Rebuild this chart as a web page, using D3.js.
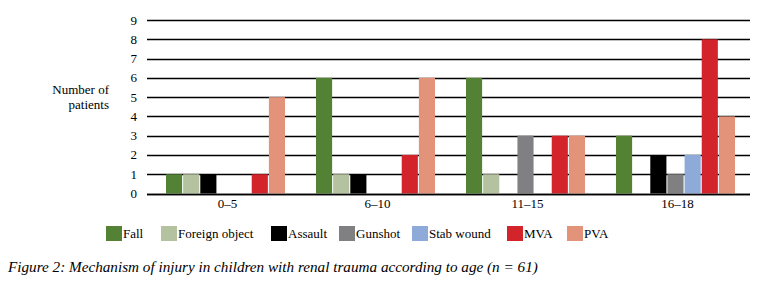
<!DOCTYPE html>
<html><head><meta charset="utf-8">
<script src="https://cdn.jsdelivr.net/npm/d3@7"></script>
<style>
body{margin:0;background:#fff;}
text{font-family:"Liberation Serif","Times New Roman",Times,serif;}
</style></head>
<body>
<svg id="chart" width="760" height="282"></svg>
<script>
const categories = ["0–5", "6–10", "11–15", "16–18"];
const seriesNames = ["Fall", "Foreign object", "Assault", "Gunshot", "Stab wound", "MVA", "PVA"];
const fall = [1, 6, 6, 3];
const foreignObject = [1, 1, 1, 0];
const assault = [1, 1, 0, 2];
const gunshot = [0, 0, 3, 1];
const stabWound = [0, 0, 0, 2];
const mva = [1, 2, 3, 8];
const pva = [5, 6, 3, 4];
const yTicks = [0, 1, 2, 3, 4, 5, 6, 7, 8, 9];
const seriesColors = ["#548235", "#b4c29f", "#000000", "#808083", "#8eaad8", "#d3232b", "#e4937b"];
const legendX = [106, 161, 271, 339, 412, 507, 567];
const caption = "Figure 2: Mechanism of injury in children with renal trauma according to age (n = 61)";

const values = [fall, foreignObject, assault, gunshot, stabWound, mva, pva];
const svg = d3.select("#chart");

const y = d3.scaleLinear().domain([0, 9]).range([193.5, 20]);
const x0 = d3.scaleBand().domain(categories).range([150.5, 750.5]);
const x1 = d3.scaleBand().domain(seriesNames).range([15.5, 134.5]).paddingInner(0.06).paddingOuter(0);

svg.append("g").selectAll("line").data(yTicks).join("line")
  .attr("x1", 147).attr("x2", 750)
  .attr("y1", d => Math.round(y(d)) + 0.5).attr("y2", d => Math.round(y(d)) + 0.5)
  .attr("stroke", "#000").attr("stroke-width", 1.3);

svg.append("g").selectAll("text").data(yTicks).join("text")
  .attr("x", 137).attr("y", d => y(d) + 4.5)
  .attr("text-anchor", "end").attr("font-size", 13)
  .text(d => d);

const rows = [];
categories.forEach((c, i) => seriesNames.forEach((s, j) => rows.push({c, s, v: values[j][i], color: seriesColors[j]})));
svg.append("g").selectAll("rect").data(rows.filter(d => d.v > 0)).join("rect")
  .attr("x", d => x0(d.c) + x1(d.s))
  .attr("width", x1.bandwidth())
  .attr("y", d => y(d.v))
  .attr("height", d => y(0) - y(d.v))
  .attr("fill", d => d.color);

svg.append("line").attr("x1", 147).attr("x2", 750).attr("y1", Math.round(y(0)) + 0.5).attr("y2", Math.round(y(0)) + 0.5)
  .attr("stroke", "#000").attr("stroke-width", 1.3);

svg.append("g").selectAll("text").data(categories).join("text")
  .attr("x", d => x0(d) + x0.bandwidth() / 2 + 2).attr("y", 208)
  .attr("text-anchor", "middle").attr("font-size", 13)
  .text(d => d);

const yt = svg.append("text").attr("text-anchor", "end").attr("font-size", 13);
yt.append("tspan").attr("x", 109).attr("y", 94).text("Number of");
yt.append("tspan").attr("x", 109).attr("y", 109).text("patients");

const lg = svg.append("g").selectAll("g").data(seriesNames).join("g")
  .attr("transform", (d, i) => `translate(${legendX[i]},226)`);
lg.append("rect").attr("width", 16).attr("height", 15).attr("fill", (d, i) => seriesColors[i]);
lg.append("text").attr("x", 17).attr("y", 12).attr("font-size", 13).text(d => d);

svg.append("text").attr("x", 8).attr("y", 272).attr("font-size", 15.2).attr("font-style", "italic").text(caption);
</script>
</body></html>
